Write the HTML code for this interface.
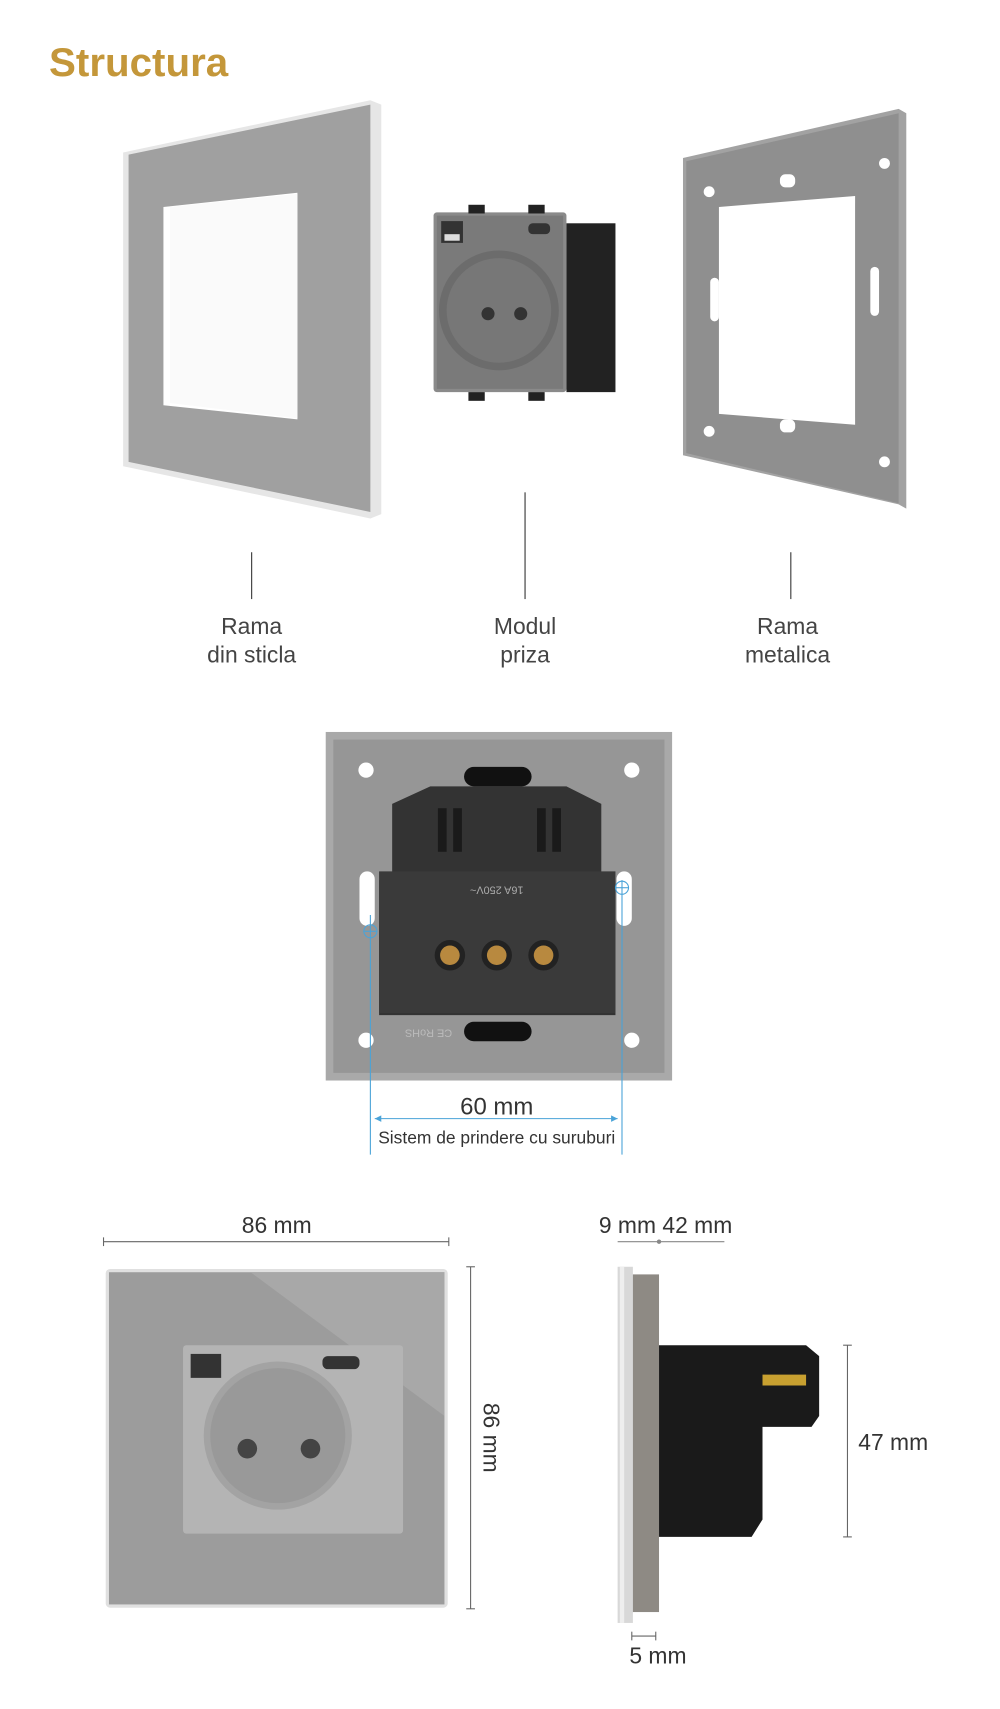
<!DOCTYPE html>
<html><head><meta charset="utf-8"><style>
html,body{margin:0;padding:0;background:#fff;}
svg{display:block;}
text{font-family:"Liberation Sans Narrow","Liberation Sans",sans-serif;}
</style></head><body>
<svg width="1000" height="1709" viewBox="0 0 918 1569" xmlns="http://www.w3.org/2000/svg">
<text x="45" y="70" font-size="37" font-weight="bold" fill="#c4973a">Structura</text>

<!-- glass frame -->
<polygon points="113,140 340,92 350,96 350,472 340,476 113,428" fill="#e6e6e6"/>
<polygon points="118,142 340,96 340,470 118,424" fill="#a0a0a0"/>
<polygon points="150,190 273,177 273,385 150,372" fill="#fff"/>
<polygon points="156,190 273,178 273,384 156,370" fill="#fafafa"/>

<!-- module -->
<rect x="520" y="205" width="45" height="155" fill="#222"/>
<rect x="398" y="195" width="122" height="165" rx="3" fill="#8a8a8a"/>
<rect x="401" y="198" width="116" height="159" fill="#7a7a7a"/>
<circle cx="458" cy="285" r="55" fill="#6c6c6c"/>
<circle cx="458" cy="285" r="48" fill="#777"/>
<circle cx="448" cy="288" r="6" fill="#333"/>
<circle cx="478" cy="288" r="6" fill="#333"/>
<rect x="405" y="203" width="20" height="20" fill="#333"/>
<rect x="408" y="215" width="14" height="6" fill="#ddd"/>
<rect x="485" y="205" width="20" height="10" rx="4" fill="#333"/>
<rect x="430" y="188" width="15" height="8" fill="#222"/><rect x="485" y="188" width="15" height="8" fill="#222"/>
<rect x="430" y="360" width="15" height="8" fill="#222"/><rect x="485" y="360" width="15" height="8" fill="#222"/>

<!-- metal frame -->
<polygon points="627,145 825,100 832,104 832,467 825,463 627,418" fill="#a2a2a2"/>
<polygon points="630,148 825,104 825,462 630,416" fill="#8f8f8f"/>
<polygon points="660,190 785,180 785,390 660,380" fill="#fff"/>
<circle cx="651" cy="176" r="5" fill="#fff"/><circle cx="812" cy="150" r="5" fill="#fff"/>
<circle cx="651" cy="396" r="5" fill="#fff"/><circle cx="812" cy="424" r="5" fill="#fff"/>
<rect x="716" y="160" width="14" height="12" rx="5" fill="#fff"/>
<rect x="716" y="385" width="14" height="12" rx="5" fill="#fff"/>
<rect x="652" y="255" width="8" height="40" rx="4" fill="#fff"/>
<rect x="799" y="245" width="8" height="45" rx="4" fill="#fff"/>

<!-- labels -->
<g stroke="#333" stroke-width="1">
<line x1="231" y1="507" x2="231" y2="550"/>
<line x1="482" y1="452" x2="482" y2="550"/>
<line x1="726" y1="507" x2="726" y2="550"/>
</g>
<g font-size="21" fill="#444" text-anchor="middle">
<text x="231" y="582">Rama</text><text x="231" y="608">din sticla</text>
<text x="482" y="582">Modul</text><text x="482" y="608">priza</text>
<text x="723" y="582">Rama</text><text x="723" y="608">metalica</text>
</g>

<!-- back view -->
<rect x="299" y="672" width="318" height="320" fill="#a9a9a9"/>
<rect x="306" y="679" width="304" height="306" fill="#969696"/>
<circle cx="336" cy="707" r="7" fill="#fff"/><circle cx="580" cy="707" r="7" fill="#fff"/>
<circle cx="336" cy="955" r="7" fill="#fff"/><circle cx="580" cy="955" r="7" fill="#fff"/>
<rect x="426" y="704" width="62" height="18" rx="9" fill="#111"/>
<rect x="426" y="938" width="62" height="18" rx="9" fill="#111"/>
<rect x="330" y="800" width="14" height="50" rx="7" fill="#fff"/>
<rect x="566" y="800" width="14" height="50" rx="7" fill="#fff"/>
<path d="M360,738 L395,722 L520,722 L552,738 L552,808 L565,808 L565,932 L348,932 L348,808 L360,808 Z" fill="#333"/>
<rect x="348" y="800" width="217" height="130" fill="#3a3a3a"/>
<rect x="402" y="742" width="8" height="40" fill="#1a1a1a"/><rect x="416" y="742" width="8" height="40" fill="#1a1a1a"/>
<rect x="493" y="742" width="8" height="40" fill="#1a1a1a"/><rect x="507" y="742" width="8" height="40" fill="#1a1a1a"/>
<circle cx="413" cy="877" r="14" fill="#222"/><circle cx="413" cy="877" r="9" fill="#b8893f"/>
<circle cx="456" cy="877" r="14" fill="#222"/><circle cx="456" cy="877" r="9" fill="#b8893f"/>
<circle cx="499" cy="877" r="14" fill="#222"/><circle cx="499" cy="877" r="9" fill="#b8893f"/>
<text x="456" y="822" font-size="10" fill="#aaa" text-anchor="middle" transform="rotate(180 456 818)">16A 250V~</text>
<text x="385" y="955" font-size="10" fill="#bbb" transform="rotate(180 400 950)">CE RoHS</text>
<g stroke="#4aa3d8" stroke-width="1" fill="none">
<line x1="340" y1="840" x2="340" y2="1060"/>
<line x1="571" y1="808" x2="571" y2="1060"/>
<circle cx="340" cy="855" r="6"/><circle cx="571" cy="815" r="6"/>
<line x1="334" y1="855" x2="346" y2="855"/><line x1="565" y1="815" x2="577" y2="815"/>
<line x1="344" y1="1027" x2="567" y2="1027"/>
</g>
<polygon points="344,1027 350,1024 350,1030" fill="#4aa3d8"/>
<polygon points="567,1027 561,1024 561,1030" fill="#4aa3d8"/>
<text x="456" y="1023" font-size="22" fill="#333" text-anchor="middle">60 mm</text>
<text x="456" y="1050" font-size="16" fill="#333" text-anchor="middle">Sistem de prindere cu suruburi</text>

<!-- front view -->
<line x1="95" y1="1140" x2="412" y2="1140" stroke="#666"/>
<line x1="95" y1="1136" x2="95" y2="1144" stroke="#666"/><line x1="412" y1="1136" x2="412" y2="1144" stroke="#666"/>
<text x="254" y="1132" font-size="21" fill="#333" text-anchor="middle">86 mm</text>
<rect x="97" y="1165" width="314" height="311" rx="4" fill="#e0e0e0"/>
<rect x="100" y="1168" width="308" height="305" fill="#9c9c9c"/>
<polygon points="230,1168 408,1168 408,1300" fill="#a8a8a8"/>
<rect x="168" y="1235" width="202" height="173" rx="3" fill="#b4b4b4"/>
<circle cx="255" cy="1318" r="68" fill="#a3a3a3"/>
<circle cx="255" cy="1318" r="62" fill="#999"/>
<circle cx="227" cy="1330" r="9" fill="#444"/><circle cx="285" cy="1330" r="9" fill="#444"/>
<rect x="175" y="1243" width="28" height="22" fill="#333"/>
<rect x="296" y="1245" width="34" height="12" rx="5" fill="#333"/>
<line x1="432" y1="1163" x2="432" y2="1477" stroke="#666"/>
<line x1="428" y1="1163" x2="436" y2="1163" stroke="#666"/><line x1="428" y1="1477" x2="436" y2="1477" stroke="#666"/>
<text x="0" y="0" font-size="21" fill="#333" text-anchor="middle" transform="translate(444,1320) rotate(90)">86 mm</text>

<!-- side view -->
<line x1="567" y1="1140" x2="665" y2="1140" stroke="#888"/>
<circle cx="605" cy="1140" r="2" fill="#888"/>
<text x="611" y="1132" font-size="21" fill="#333" text-anchor="middle">9 mm 42 mm</text>
<rect x="567" y="1163" width="14" height="327" fill="#d8d8d8"/>
<rect x="569" y="1163" width="4" height="327" fill="#eee"/>
<rect x="581" y="1170" width="24" height="310" fill="#8e8a84"/>
<path d="M605,1235 L740,1235 L752,1245 L752,1300 L745,1310 L700,1310 L700,1395 L690,1411 L605,1411 Z" fill="#1a1a1a"/>
<rect x="700" y="1262" width="40" height="10" fill="#c8a030"/>
<line x1="778" y1="1235" x2="778" y2="1411" stroke="#666"/>
<line x1="774" y1="1235" x2="782" y2="1235" stroke="#666"/><line x1="774" y1="1411" x2="782" y2="1411" stroke="#666"/>
<text x="820" y="1331" font-size="21" fill="#333" text-anchor="middle">47 mm</text>
<line x1="580" y1="1502" x2="602" y2="1502" stroke="#666"/>
<line x1="580" y1="1498" x2="580" y2="1506" stroke="#666"/><line x1="602" y1="1498" x2="602" y2="1506" stroke="#666"/>
<text x="604" y="1527" font-size="21" fill="#333" text-anchor="middle">5 mm</text>
</svg>
</body></html>
